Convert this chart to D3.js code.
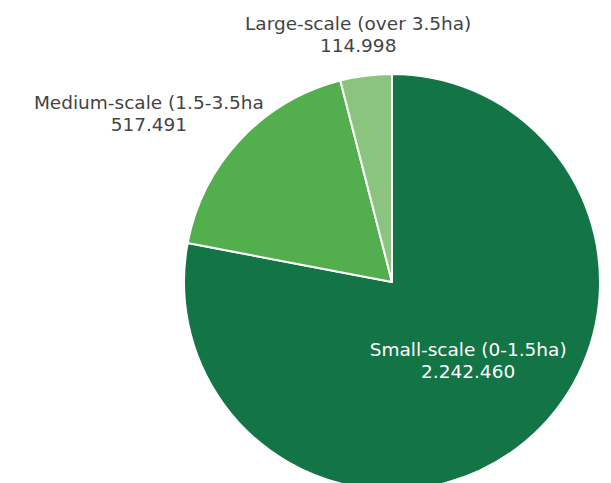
<!DOCTYPE html>
<html>
<head>
<meta charset="utf-8">
<script src="https://cdn.jsdelivr.net/npm/d3@7"></script>
<style>
  html, body { margin: 0; padding: 0; background: #fff; }
  svg { display: block; }
</style>
</head>
<body>
<svg id="chart" width="611" height="483"></svg>
<script>
// Farm holdings by size class
const categories = ["Small-scale (0-1.5ha)", "Medium-scale (1.5-3.5ha", "Large-scale (over 3.5ha)"];
const values = [2242460, 517491, 114998];
const valueLabels = ["2.242.460", "517.491", "114.998"];
const colors = ["#137446", "#53ae4e", "#8bc47e"];

const width = 611, height = 483;
const cx = 392, cy = 282, R = 208;

const svg = d3.select("#chart");
const g = svg.append("g").attr("transform", `translate(${cx},${cy})`);

const pie = d3.pie().sort(null).value(d => d.value);
const data = categories.map((c, i) => ({ name: c, value: values[i], label: valueLabels[i], color: colors[i] }));
const arcs = pie(data);

const arc = d3.arc().innerRadius(0).outerRadius(R);

g.selectAll("path.slice")
  .data(arcs)
  .join("path")
  .attr("class", "slice")
  .attr("d", arc)
  .attr("fill", d => d.data.color)
  .attr("stroke", "#fff")
  .attr("stroke-width", 2)
  .attr("stroke-linejoin", "round");

// Label placement: inside for the large slice, outside for the small ones
const labelRadius = [0.524, 1.423, 1.203];
const angleShift = [-0.082, -0.147, -0.01];
const fontSize = 18.5, lineGap = 22;

arcs.forEach((d, i) => {
  const mid = (d.startAngle + d.endAngle) / 2 + angleShift[i];
  const r = R * labelRadius[i];
  const x = Math.sin(mid) * r;
  const y = -Math.cos(mid) * r;
  const fill = i === 0 ? "#ffffff" : "#444444";
  [d.data.name, d.data.label].forEach((line, k) => {
    g.append("text")
      .attr("x", x)
      .attr("y", y - 4 + k * lineGap)
      .attr("text-anchor", "middle")
      .attr("font-family", "'DejaVu Sans', sans-serif")
      .attr("font-size", fontSize)
      .attr("fill", fill)
      .text(line);
  });
});
</script>
</body>
</html>
